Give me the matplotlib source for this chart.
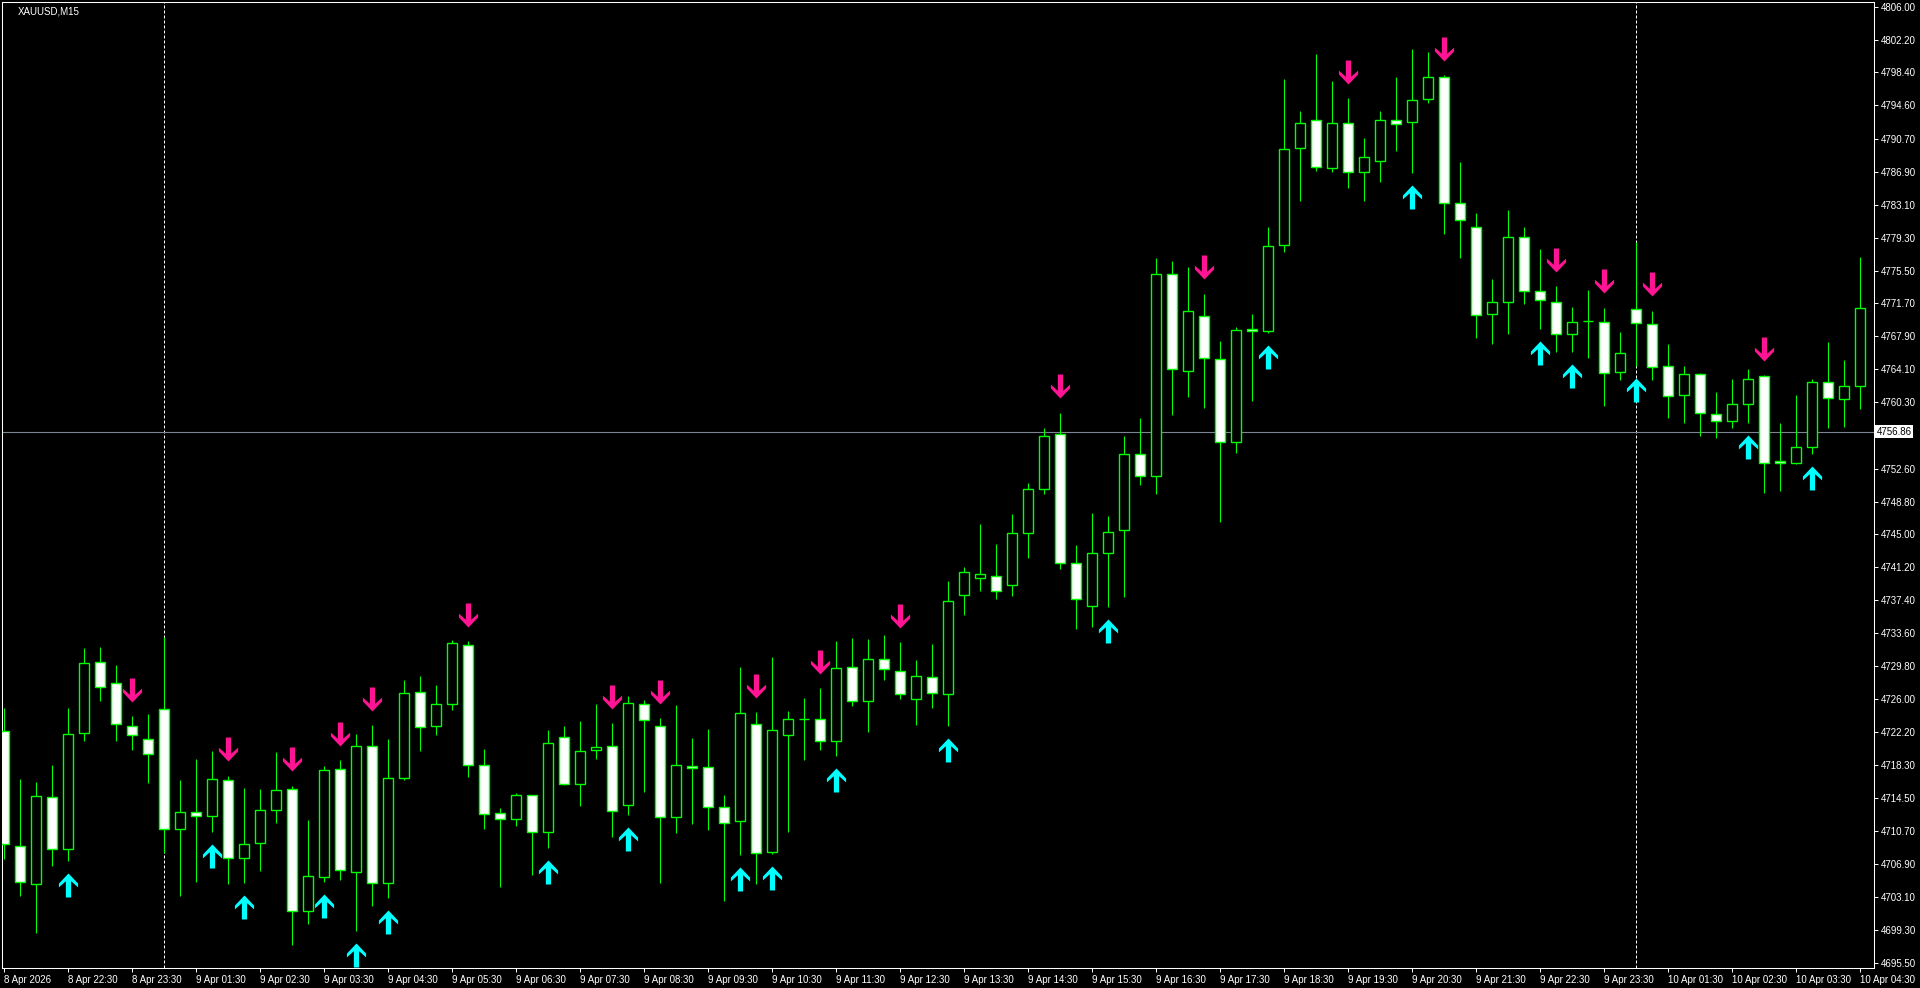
import matplotlib
matplotlib.use('Agg')
import matplotlib.pyplot as plt
import numpy as np
from matplotlib.path import Path
from matplotlib.transforms import blended_transform_factory

plt.rcParams['font.family'] = ['Liberation Sans', 'DejaVu Sans']

symbol = 'XAUUSD,M15'

# M15 bars, oldest first (8 Apr 21:30 .. 10 Apr 04:30)
opens = [4722.32, 4709.02, 4704.56, 4714.69, 4708.61, 4722.02, 4730.29, 4727.79, 4722.89, 4721.39,
         4724.79, 4710.99, 4712.88, 4712.42, 4716.58, 4707.57, 4709.30, 4713.12, 4715.54, 4701.44,
         4705.37, 4717.85, 4705.95, 4720.51, 4704.68, 4716.81, 4726.75, 4722.83, 4725.37, 4732.19,
         4718.32, 4712.77, 4712.07, 4714.85, 4710.57, 4721.55, 4716.12, 4720.05, 4720.51, 4713.69,
         4725.37, 4722.83, 4712.31, 4718.27, 4718.09, 4713.46, 4711.84, 4723.12, 4708.26, 4721.78,
         4723.70, 4723.63, 4721.09, 4729.64, 4725.71, 4730.57, 4729.18, 4725.94, 4728.49, 4726.52,
         4737.95, 4739.94, 4740.15, 4739.11, 4745.14, 4750.22, 4756.57, 4741.68, 4736.68, 4742.91,
         4745.47, 4754.26, 4751.79, 4775.07, 4763.92, 4770.20, 4765.24, 4755.63, 4768.71, 4768.47,
         4778.42, 4789.63, 4792.87, 4787.32, 4792.52, 4786.86, 4788.13, 4792.87, 4792.63, 4795.29,
         4797.84, 4783.34, 4780.57, 4770.44, 4771.90, 4779.41, 4773.17, 4771.90, 4768.13, 4769.63,
         4769.61, 4763.74, 4771.02, 4769.29, 4764.43, 4761.08, 4763.51, 4758.89, 4758.08, 4760.04,
         4763.28, 4753.45, 4753.22, 4755.07, 4762.58, 4760.62, 4762.12]
highs = [4724.90, 4716.70, 4716.35, 4718.32, 4724.90, 4731.84, 4731.96, 4729.87, 4723.98, 4724.21,
         4733.11, 4716.58, 4719.01, 4719.97, 4717.08, 4715.66, 4715.54, 4719.82, 4715.92, 4711.99,
         4718.24, 4718.90, 4721.90, 4722.94, 4721.32, 4728.18, 4728.60, 4727.56, 4732.76, 4732.65,
         4720.17, 4713.35, 4715.08, 4714.90, 4722.36, 4722.83, 4723.40, 4725.37, 4723.17, 4726.29,
         4725.83, 4723.75, 4725.25, 4721.44, 4722.48, 4714.85, 4729.64, 4724.44, 4730.80, 4724.56,
         4726.06, 4727.22, 4732.65, 4733.00, 4732.88, 4733.34, 4732.53, 4730.45, 4732.30, 4739.62,
         4741.24, 4746.21, 4743.86, 4747.33, 4750.92, 4757.28, 4759.09, 4743.78, 4747.45, 4747.13,
         4756.33, 4758.43, 4776.96, 4776.60, 4775.90, 4772.80, 4767.35, 4768.92, 4770.49, 4780.50,
         4797.60, 4793.94, 4800.53, 4797.37, 4795.41, 4790.79, 4793.91, 4797.84, 4801.07, 4800.73,
         4798.07, 4788.01, 4782.12, 4774.49, 4782.46, 4780.50, 4777.96, 4773.68, 4771.25, 4773.25,
         4771.17, 4768.36, 4778.77, 4770.82, 4766.98, 4764.43, 4763.62, 4761.43, 4762.93, 4764.09,
         4763.40, 4757.84, 4761.08, 4762.93, 4767.21, 4765.13, 4777.03]
lows = [4707.45, 4703.24, 4698.97, 4706.71, 4707.29, 4721.16, 4725.78, 4721.16, 4720.12, 4716.31,
        4708.21, 4703.24, 4704.83, 4710.64, 4704.63, 4704.75, 4706.13, 4711.68, 4697.58, 4700.01,
        4704.86, 4705.03, 4699.20, 4702.09, 4703.01, 4716.60, 4720.00, 4721.78, 4724.67, 4717.00,
        4710.99, 4704.29, 4711.34, 4705.67, 4708.79, 4716.00, 4713.65, 4719.08, 4709.99, 4712.54,
        4715.20, 4704.75, 4710.46, 4711.57, 4710.80, 4702.67, 4707.98, 4704.63, 4708.10, 4710.64,
        4718.96, 4720.12, 4719.43, 4725.21, 4722.20, 4728.14, 4725.94, 4723.01, 4724.90, 4722.89,
        4735.73, 4738.50, 4737.58, 4737.92, 4742.33, 4749.72, 4741.05, 4734.12, 4734.32, 4736.64,
        4737.79, 4750.76, 4749.72, 4758.85, 4760.91, 4759.67, 4746.46, 4754.47, 4760.46, 4768.30,
        4777.68, 4783.57, 4787.04, 4786.92, 4785.08, 4783.57, 4785.77, 4789.35, 4786.81, 4794.83,
        4779.76, 4776.98, 4767.74, 4767.05, 4768.20, 4771.67, 4768.78, 4766.12, 4766.12, 4765.43,
        4759.88, 4762.88, 4764.50, 4762.88, 4758.49, 4757.91, 4756.41, 4756.18, 4757.34, 4757.91,
        4749.82, 4750.06, 4753.10, 4754.26, 4757.34, 4757.45, 4759.53]
closes = [4709.19, 4704.79, 4714.80, 4708.61, 4721.97, 4730.11, 4727.33, 4723.06, 4721.78, 4719.59,
          4710.92, 4712.88, 4712.42, 4716.70, 4707.64, 4709.19, 4713.12, 4715.43, 4701.44, 4705.49,
          4717.74, 4706.18, 4720.51, 4704.68, 4716.81, 4726.64, 4722.71, 4725.37, 4732.42, 4718.32,
          4712.65, 4712.07, 4714.85, 4710.57, 4720.86, 4716.12, 4719.94, 4720.40, 4713.00, 4725.48,
          4723.52, 4712.31, 4718.32, 4718.00, 4713.46, 4711.61, 4724.33, 4708.14, 4722.36, 4723.63,
          4723.72, 4721.09, 4729.53, 4725.71, 4730.57, 4729.41, 4726.52, 4728.60, 4726.64, 4737.27,
          4740.66, 4740.39, 4738.42, 4745.22, 4750.22, 4756.33, 4741.68, 4737.50, 4742.91, 4745.30,
          4754.26, 4751.79, 4775.07, 4764.09, 4770.78, 4765.37, 4755.63, 4768.58, 4768.47, 4778.29,
          4789.51, 4792.52, 4787.43, 4792.52, 4786.86, 4788.59, 4792.87, 4792.40, 4795.18, 4797.84,
          4783.27, 4781.31, 4770.33, 4771.90, 4779.34, 4773.10, 4772.06, 4768.13, 4769.59, 4769.63,
          4763.62, 4765.94, 4769.40, 4764.32, 4760.97, 4763.51, 4759.00, 4758.08, 4760.04, 4762.93,
          4753.22, 4753.22, 4755.07, 4762.58, 4760.73, 4762.12, 4771.14]

# indicator signals (bar index)
buy_signals = [4, 13, 15, 20, 22, 24, 34, 39, 46, 48, 52, 59, 69, 79, 88, 96, 98, 102, 109, 113]
sell_signals = [8, 14, 18, 21, 23, 29, 38, 41, 47, 51, 56, 66, 75, 84, 90, 97, 100, 103, 110]

day_breaks = [10, 102]
bid = 4756.86

time_labels = ['8 Apr 2026', '8 Apr 22:30', '8 Apr 23:30',
               '9 Apr 01:30', '9 Apr 02:30', '9 Apr 03:30', '9 Apr 04:30', '9 Apr 05:30',
               '9 Apr 06:30', '9 Apr 07:30', '9 Apr 08:30', '9 Apr 09:30', '9 Apr 10:30',
               '9 Apr 11:30', '9 Apr 12:30', '9 Apr 13:30', '9 Apr 14:30', '9 Apr 15:30',
               '9 Apr 16:30', '9 Apr 17:30', '9 Apr 18:30', '9 Apr 19:30', '9 Apr 20:30',
               '9 Apr 21:30', '9 Apr 22:30', '9 Apr 23:30',
               '10 Apr 01:30', '10 Apr 02:30', '10 Apr 03:30', '10 Apr 04:30']
# the 4756.50 level sits under the bid label, so it is left out
price_ticks = [4806.00, 4802.20, 4798.40, 4794.60, 4790.70, 4786.90, 4783.10, 4779.30, 4775.50,
               4771.70, 4767.90, 4764.10, 4760.30, 4752.60, 4748.80, 4745.00, 4741.20,
               4737.40, 4733.60, 4729.80, 4726.00, 4722.20, 4718.30, 4714.50, 4710.70, 4706.90,
               4703.10, 4699.30, 4695.50]

o = np.array(opens)
h = np.array(highs)
l = np.array(lows)
c = np.array(closes)
x = np.arange(len(o))
bull = c >= o

fig = plt.figure(figsize=(19.2, 9.88), dpi=100, facecolor='black')
ax = fig.add_axes([2 / 1920, 20 / 988, 1872 / 1920, 966 / 988])
ax.set_facecolor('black')

# period separators
for b in day_breaks:
    ax.axvline(b, color='white', lw=0.72, ls=(0, (3, 2)), zorder=1)

# bid line
ax.axhline(bid, color='#7d8594', lw=0.8, zorder=1.5)

# candles
ax.vlines(x, l, h, color='#00ff00', lw=0.8, zorder=2)
fills = np.where(bull, 'black', 'white')
ax.bar(x, np.abs(c - o), bottom=np.minimum(o, c), width=0.62, color=fills,
       edgecolor='#00ff00', linewidth=1.0, zorder=3)

# signal arrows, tip at the origin of the marker
up_verts = [(0, 0), (0.4, -0.42), (0.4, -0.58), (0.11, -0.32), (0.11, -1), (-0.11, -1),
            (-0.11, -0.32), (-0.4, -0.58), (-0.4, -0.42), (0, 0)]
up_arrow = Path(up_verts, closed=True)
down_arrow = Path([(vx, -vy) for vx, vy in up_verts], closed=True)
ax.scatter(buy_signals, l[buy_signals] - 1.4, marker=up_arrow, s=1194,
           c='#00ffff', linewidths=0, zorder=5)
ax.scatter(sell_signals, h[sell_signals] + 1.7, marker=down_arrow, s=1194,
           c='#ff1493', linewidths=0, zorder=5)

ax.set_xlim(-0.1, len(o) - 0.1)
ax.set_ylim(4694.89, 4806.54)

ax.set_xticks(x[::4])
ax.set_xticklabels(time_labels, ha='left')
ax.yaxis.tick_right()
ax.set_yticks(price_ticks)
ax.set_yticklabels(['%.2f' % p for p in price_ticks])
ax.tick_params(axis='x', colors='white', length=3, width=0.7, pad=2, labelsize=7)
ax.tick_params(axis='y', colors='white', length=3, width=0.7, pad=2, labelsize=7)
for s in ax.spines.values():
    s.set_color('white')
    s.set_linewidth(0.75)

# bid price label on the price scale
tr = blended_transform_factory(ax.transAxes, ax.transData)
ax.text(1.0015, bid, '%.2f' % bid, transform=tr, ha='left', va='center', fontsize=7,
        color='black', clip_on=False, zorder=10,
        bbox=dict(boxstyle='square,pad=0.15', fc='white', ec='none'))

fig.text(18 / 1920, 1 - 11 / 988, symbol, color='white', fontsize=7, va='center', ha='left')

fig.savefig('out.png', dpi=100, facecolor='black')
